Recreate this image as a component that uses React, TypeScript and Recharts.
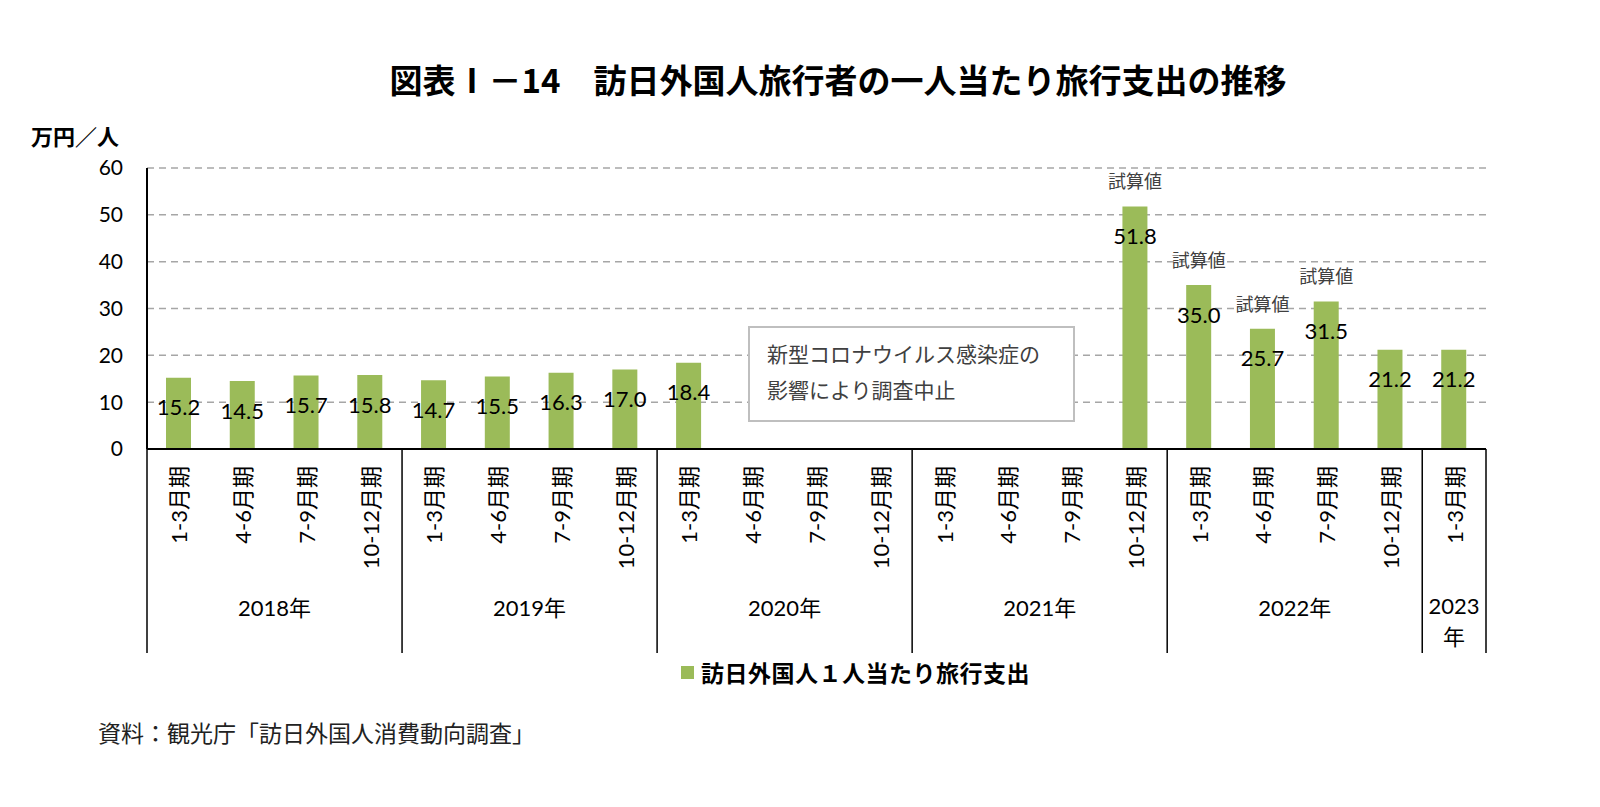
import React from 'react'
import { BarChart, Bar, XAxis, YAxis, CartesianGrid, LabelList } from 'recharts'

const YEARS = ['2018', '2019', '2020', '2021', '2022', '2023']
const QUARTERS = ['1-3月期', '4-6月期', '7-9月期', '10-12月期']
// 万円／人, null = survey suspended
const SPEND = [
  15.2, 14.5, 15.7, 15.8,
  14.7, 15.5, 16.3, 17.0,
  18.4, null, null, null,
  null, null, null, 51.8,
  35.0, 25.7, 31.5, 21.2,
  21.2,
]
const ESTIMATE = [
  false, false, false, false,
  false, false, false, false,
  false, false, false, false,
  false, false, false, true,
  true, true, true, false,
  false,
]
const Y_TICKS = [0, 10, 20, 30, 40, 50, 60]

const DATA = SPEND.map((v, i) => ({
  key: i,
  quarter: QUARTERS[i % 4],
  qi: i % 4,
  year: YEARS[Math.floor(i / 4)],
  value: v,
  est: ESTIMATE[i] ? 1 : null,
}))

const GREEN = '#9BBB59'
const LATIN = 'Lato, "Noto Sans CJK JP", sans-serif'
const JP = '"Noto Sans CJK JP", sans-serif'

function QuarterTick(props: any) {
  const { x, y, payload } = props
  const i = payload.value as number
  const d = DATA[i]
  if (!d) return null
  const half = payload.offset || 31.9
  const groupSize = DATA.filter(e => e.year === d.year).length
  const isLast = i === DATA.length - 1
  return (
    <g>
      <text
        transform={`translate(${x},${y + 17}) rotate(-90)`}
        textAnchor="end" dominantBaseline="central"
        fontSize={22} fontFamily={LATIN} fill="#000"
      >{d.quarter}</text>
      {d.qi === 0 && <line x1={x - half} x2={x - half} y1={y} y2={y + 204} stroke="#000" strokeWidth={1.5} />}
      {isLast && <line x1={x + half} x2={x + half} y1={y} y2={y + 204} stroke="#000" strokeWidth={1.5} />}
      {groupSize === 4 && d.qi === 1 && (
        <text x={x + half} y={y + 158} textAnchor="middle" dominantBaseline="central"
          fontSize={22} fontFamily={LATIN} fill="#000">{d.year}年</text>
      )}
      {groupSize === 1 && (
        <g>
          <text x={x} y={y + 156} textAnchor="middle" dominantBaseline="central"
            fontSize={22} fontFamily={LATIN} fill="#000">{d.year}</text>
          <text x={x} y={y + 186} textAnchor="middle" dominantBaseline="central"
            fontSize={22} fontFamily={JP} fill="#000">年</text>
        </g>
      )}
    </g>
  )
}

function ValueLabel(props: any) {
  const { x, y, width, value } = props
  if (value == null) return null
  return (
    <text x={x + width / 2} y={y + 29} textAnchor="middle" dominantBaseline="central"
      fontSize={22} fontFamily={LATIN} fill="#000">{Number(value).toFixed(1)}</text>
  )
}

function EstimateLabel(props: any) {
  const { x, y, width, value } = props
  if (!value) return null
  return (
    <text x={x + width / 2} y={y - 26} textAnchor="middle" dominantBaseline="central"
      fontSize={18} fontFamily={JP} fill="#404040">試算値</text>
  )
}

export default function App() {
  return (
    <div style={{ position: 'absolute', left: 0, top: 0, width: 1600, height: 807, background: '#fff', overflow: 'hidden' }}>
      <div style={{
        position: 'absolute', left: 0, width: 1676, top: 61, textAlign: 'center',
        fontFamily: JP, fontWeight: 700, fontSize: 33, lineHeight: '36px', color: '#000',
      }}>図表Ⅰ－14　訪日外国人旅行者の一人当たり旅行支出の推移</div>
      <div style={{
        position: 'absolute', left: 31, top: 122, fontFamily: JP, fontWeight: 700,
        fontSize: 22, lineHeight: '26px', color: '#000',
      }}>万円／人</div>

      <div style={{ position: 'absolute', left: 0, top: 0 }}>
        <BarChart
          width={1600} height={700} data={DATA}
          margin={{ top: 168, right: 114, left: 67, bottom: 41 }}
        >
          <CartesianGrid vertical={false} stroke="#a6a6a6" strokeDasharray="7 5" strokeWidth={1.5} />
          <XAxis
            dataKey="key" type="category" interval={0} height={210}
            axisLine={{ stroke: '#000', strokeWidth: 2 }} tickLine={false}
            tickSize={0} tickMargin={0} tick={<QuarterTick />}
          />
          <YAxis
            domain={[0, 60]} ticks={Y_TICKS} width={80} interval={0}
            axisLine={{ stroke: '#000', strokeWidth: 2 }} tickLine={false}
            tickSize={0} tickMargin={24}
            tick={{ fontSize: 21, fontFamily: LATIN, fill: '#000' }}
          />
          <Bar dataKey="value" fill={GREEN} barSize={25} isAnimationActive={false}>
            <LabelList dataKey="value" content={<ValueLabel />} />
            <LabelList dataKey="est" content={<EstimateLabel />} />
          </Bar>
        </BarChart>
      </div>

      <div style={{
        position: 'absolute', left: 748, top: 326, width: 327, height: 96, boxSizing: 'border-box',
        border: '2px solid #bfbfbf', background: '#fff', padding: '7px 0 0 17px',
        fontFamily: JP, fontSize: 21, lineHeight: '36px', color: '#404040',
      }}>
        <div>新型コロナウイルス感染症の</div>
        <div>影響により調査中止</div>
      </div>

      <div style={{ position: 'absolute', left: 681, top: 659, display: 'flex', alignItems: 'center', height: 26 }}>
        <div style={{ width: 13, height: 13, background: GREEN, marginRight: 7 }} />
        <div style={{ fontFamily: JP, fontWeight: 700, fontSize: 23, lineHeight: '26px', color: '#000', letterSpacing: 0.5 }}>
          訪日外国人１人当たり旅行支出
        </div>
      </div>

      <div style={{
        position: 'absolute', left: 98, top: 718, fontFamily: JP, fontSize: 23,
        lineHeight: '28px', color: '#222',
      }}>資料：観光庁「訪日外国人消費動向調査」</div>
    </div>
  )
}
